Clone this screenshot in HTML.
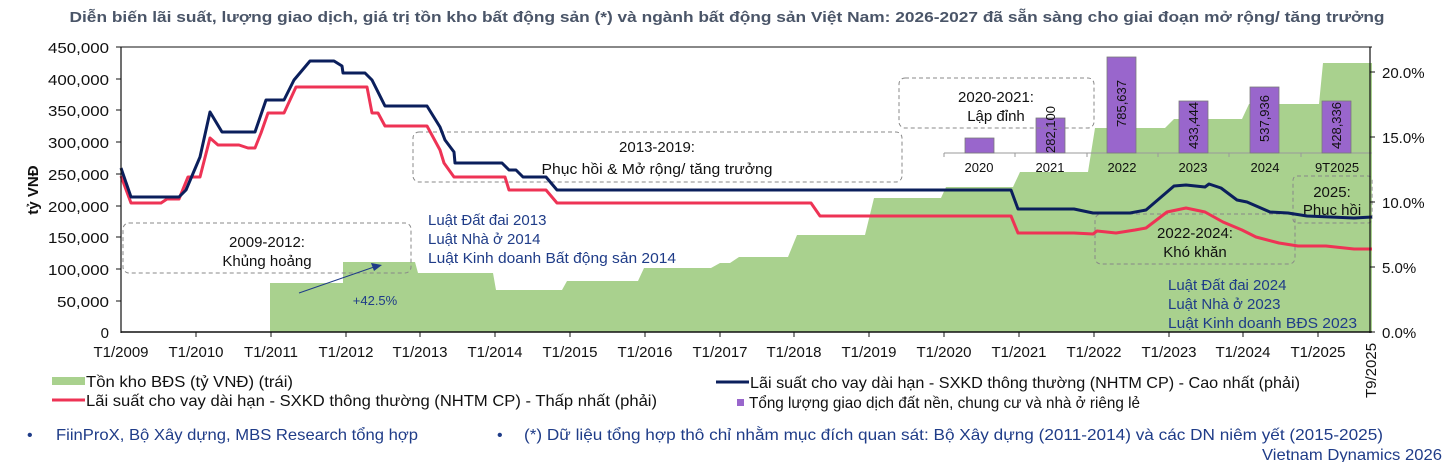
<!DOCTYPE html>
<html><head><meta charset="utf-8"><style>
html,body{margin:0;padding:0;background:#fff;}
svg{display:block;font-family:"Liberation Sans",Arial,sans-serif;}
</style></head><body>
<svg width="1447" height="462" viewBox="0 0 1447 462" xmlns="http://www.w3.org/2000/svg">
<text x="727" y="22" text-anchor="middle" font-size="15" font-weight="bold" fill="#4a5568" textLength="1315" lengthAdjust="spacingAndGlyphs">Diễn biến lãi suất, lượng giao dịch, giá trị tồn kho bất động sản (*) và ngành bất động sản Việt Nam: 2026-2027 đã sẵn sàng cho giai đoạn mở rộng/ tăng trưởng</text>

<!-- green area -->
<polygon fill="#a9d18e" points="270,332 270,283 343,283 343,262 415,262 418,273 493,273 496,290 562,290 567,281 638,281 644,268 711,268 720,263 730,263 739,257 788,257 797,235 865,235 874,198 941,198 946,187 1013,187 1020,172 1088,172 1095,128 1165,128 1174,119 1242,119 1249,104 1319,104 1323,63 1372,63 1372,332"/>

<!-- bar inset -->
<line x1="944" y1="153" x2="1372" y2="153" stroke="#999" stroke-width="1"/>
<g stroke="#999"><line x1="944" y1="153" x2="944" y2="157"/><line x1="1015" y1="153" x2="1015" y2="157"/><line x1="1087" y1="153" x2="1087" y2="157"/><line x1="1158" y1="153" x2="1158" y2="157"/><line x1="1229" y1="153" x2="1229" y2="157"/><line x1="1301" y1="153" x2="1301" y2="157"/></g>
<g fill="#9966cc" stroke="#7a7a7a" stroke-width="0.8">
<rect x="965" y="138" width="29" height="15"/>
<rect x="1036" y="118" width="29" height="35"/>
<rect x="1107" y="57" width="29" height="96"/>
<rect x="1179" y="101" width="29" height="52"/>
<rect x="1250" y="87" width="29" height="66"/>
<rect x="1322" y="101" width="29" height="52"/>
</g>
<g font-size="13" fill="#111" text-anchor="middle">
<text x="979" y="172">2020</text><text x="1050" y="172">2021</text><text x="1122" y="172">2022</text><text x="1193" y="172">2023</text><text x="1265" y="172">2024</text><text x="1337" y="172">9T2025</text>
</g>
<g font-size="13" fill="#111">
<text transform="translate(1055,153) rotate(-90)">282,100</text>
<text transform="translate(1126,127) rotate(-90)">785,637</text>
<text transform="translate(1198,149) rotate(-90)">433,444</text>
<text transform="translate(1269,142) rotate(-90)">537,936</text>
<text transform="translate(1341,149) rotate(-90)">428,336</text>
</g>

<!-- dashed boxes -->
<g fill="none" stroke="#888" stroke-width="1" stroke-dasharray="4,3">
<rect x="123" y="223" width="288" height="50" rx="6"/>
<rect x="413" y="132" width="489" height="50" rx="6"/>
<rect x="899" y="78" width="195" height="50" rx="6"/>
<rect x="1095" y="214" width="200" height="50" rx="6"/>
<rect x="1293" y="176" width="79" height="47" rx="4"/>
</g>
<g font-size="15" fill="#111" text-anchor="middle">
<text x="267" y="247">2009-2012:</text><text x="267" y="266">Khủng hoảng</text>
<text x="657" y="152">2013-2019:</text><text x="657" y="174" textLength="231" lengthAdjust="spacingAndGlyphs">Phục hồi &amp; Mở rộng/ tăng trưởng</text>
<text x="996" y="102">2020-2021:</text><text x="996" y="121">Lập đỉnh</text>
<text x="1195" y="238">2022-2024:</text><text x="1195" y="257">Khó khăn</text>
<text x="1332" y="197">2025:</text><text x="1332" y="215">Phục hồi</text>
</g>
<g font-size="15" fill="#1f3c88">
<text x="428" y="225">Luật Đất đai 2013</text><text x="428" y="244">Luật Nhà ở 2014</text><text x="428" y="263" textLength="248" lengthAdjust="spacingAndGlyphs">Luật Kinh doanh Bất động sản 2014</text>
<text x="1168" y="290">Luật Đất đai 2024</text><text x="1168" y="309">Luật Nhà ở 2023</text><text x="1168" y="328" textLength="189" lengthAdjust="spacingAndGlyphs">Luật Kinh doanh BĐS 2023</text>
</g>
<line x1="299" y1="293" x2="374" y2="267" stroke="#1f3c88" stroke-width="1"/>
<polygon points="382,265 371,263 374,271" fill="#1f3c88"/>
<text x="375" y="305" font-size="13" fill="#1f3c88" text-anchor="middle">+42.5%</text>

<!-- lines -->
<polyline fill="none" stroke="#ee3355" stroke-width="3" stroke-linejoin="round" points="121,176 131,203 161,203 167,199 179,199 188,177 200,177 210,138 218,145 239,145 248,148 255,148 261,133 268,113 284,113 296,87 367,87 372,113 378,113 385,126 427,126 440,150 444,163 454,177 505,177 509,190 546,190 557,203 811,203 820,216 1011,216 1018,233 1074,233 1093,234 1097,231 1116,233 1135,230 1146,228 1167,212 1186,208 1205,212 1223,222 1242,230 1256,237 1279,243 1298,246 1326,246 1354,249 1372,249"/>
<polyline fill="none" stroke="#0b1f5c" stroke-width="3" stroke-linejoin="round" points="121,168 131,197 179,197 186,190 200,157 210,112 222,132 255,132 266,100 284,100 294,80 310,61 334,61 342,66 343,73 365,73 372,80 385,106 427,106 440,127 445,140 454,152 455,163 502,163 509,170 516,170 523,177 546,177 557,190 1011,190 1018,209 1074,209 1093,213 1130,213 1146,210 1174,186 1186,185 1205,187 1209,184 1221,188 1237,200 1247,202 1270,212 1288,213 1307,216 1354,218 1372,217"/>

<!-- axes -->
<line x1="121" y1="47" x2="1372" y2="47" stroke="#111" stroke-width="1"/>
<line x1="121" y1="47" x2="121" y2="333" stroke="#111" stroke-width="1.2"/>
<line x1="1370" y1="47" x2="1370" y2="333" stroke="#111" stroke-width="1.2"/>
<line x1="121" y1="332" x2="1372" y2="332" stroke="#111" stroke-width="1.5"/>
<g font-size="15" fill="#111" text-anchor="end">
<text x="109" y="53" textLength="61" lengthAdjust="spacingAndGlyphs">450,000</text><text x="109" y="85" textLength="61" lengthAdjust="spacingAndGlyphs">400,000</text><text x="109" y="116" textLength="61" lengthAdjust="spacingAndGlyphs">350,000</text><text x="109" y="148" textLength="61" lengthAdjust="spacingAndGlyphs">300,000</text><text x="109" y="180" textLength="61" lengthAdjust="spacingAndGlyphs">250,000</text><text x="109" y="212" textLength="61" lengthAdjust="spacingAndGlyphs">200,000</text><text x="109" y="243" textLength="61" lengthAdjust="spacingAndGlyphs">150,000</text><text x="109" y="275" textLength="61" lengthAdjust="spacingAndGlyphs">100,000</text><text x="109" y="307" textLength="52" lengthAdjust="spacingAndGlyphs">50,000</text><text x="109" y="338">0</text>
</g>
<g stroke="#111"><line x1="116" y1="47" x2="121" y2="47"/><line x1="116" y1="79" x2="121" y2="79"/><line x1="116" y1="110" x2="121" y2="110"/><line x1="116" y1="142" x2="121" y2="142"/><line x1="116" y1="174" x2="121" y2="174"/><line x1="116" y1="206" x2="121" y2="206"/><line x1="116" y1="237" x2="121" y2="237"/><line x1="116" y1="269" x2="121" y2="269"/><line x1="116" y1="301" x2="121" y2="301"/>
<line x1="1370" y1="72" x2="1375" y2="72"/><line x1="1370" y1="137" x2="1375" y2="137"/><line x1="1370" y1="202" x2="1375" y2="202"/><line x1="1370" y1="267" x2="1375" y2="267"/><line x1="1370" y1="332" x2="1375" y2="332"/></g>
<g font-size="15" fill="#111">
<text x="1382" y="78">20.0%</text><text x="1382" y="143">15.0%</text><text x="1382" y="208">10.0%</text><text x="1382" y="273">5.0%</text><text x="1382" y="338">0.0%</text>
</g>
<text transform="translate(38,190) rotate(-90)" font-size="15" font-weight="bold" fill="#111" text-anchor="middle">tỷ VNĐ</text>
<g font-size="15" fill="#111" text-anchor="middle">
<text x="121" y="357">T1/2009</text><text x="196" y="357">T1/2010</text><text x="271" y="357">T1/2011</text><text x="346" y="357">T1/2012</text><text x="420" y="357">T1/2013</text><text x="495" y="357">T1/2014</text><text x="570" y="357">T1/2015</text><text x="645" y="357">T1/2016</text><text x="720" y="357">T1/2017</text><text x="794" y="357">T1/2018</text><text x="869" y="357">T1/2019</text><text x="944" y="357">T1/2020</text><text x="1019" y="357">T1/2021</text><text x="1094" y="357">T1/2022</text><text x="1169" y="357">T1/2023</text><text x="1243" y="357">T1/2024</text><text x="1318" y="357">T1/2025</text>
</g>
<g stroke="#111"><line x1="196" y1="332" x2="196" y2="337"/><line x1="271" y1="332" x2="271" y2="337"/><line x1="346" y1="332" x2="346" y2="337"/><line x1="420" y1="332" x2="420" y2="337"/><line x1="495" y1="332" x2="495" y2="337"/><line x1="570" y1="332" x2="570" y2="337"/><line x1="645" y1="332" x2="645" y2="337"/><line x1="720" y1="332" x2="720" y2="337"/><line x1="794" y1="332" x2="794" y2="337"/><line x1="869" y1="332" x2="869" y2="337"/><line x1="944" y1="332" x2="944" y2="337"/><line x1="1019" y1="332" x2="1019" y2="337"/><line x1="1094" y1="332" x2="1094" y2="337"/><line x1="1169" y1="332" x2="1169" y2="337"/><line x1="1243" y1="332" x2="1243" y2="337"/><line x1="1318" y1="332" x2="1318" y2="337"/></g>
<text transform="translate(1376,398) rotate(-90)" font-size="15" fill="#111">T9/2025</text>

<!-- legend -->
<rect x="52" y="377" width="33" height="8" fill="#a9d18e"/>
<text x="86" y="387" font-size="16" fill="#111" textLength="207" lengthAdjust="spacingAndGlyphs">Tồn kho BĐS (tỷ VNĐ) (trái)</text>
<line x1="52" y1="400" x2="85" y2="400" stroke="#ee3355" stroke-width="3"/>
<text x="86" y="406" font-size="16" fill="#111" textLength="571" lengthAdjust="spacingAndGlyphs">Lãi suất cho vay dài hạn - SXKD thông thường (NHTM CP) - Thấp nhất (phải)</text>
<line x1="716" y1="382" x2="749" y2="382" stroke="#0b1f5c" stroke-width="3"/>
<text x="750" y="388" font-size="16" fill="#111" textLength="550" lengthAdjust="spacingAndGlyphs">Lãi suất cho vay dài hạn - SXKD thông thường (NHTM CP) - Cao nhất (phải)</text>
<rect x="737" y="399" width="7" height="7" fill="#9966cc"/>
<text x="749" y="408" font-size="16" fill="#111" textLength="391" lengthAdjust="spacingAndGlyphs">Tổng lượng giao dịch đất nền, chung cư và nhà ở riêng lẻ</text>

<g font-size="16" fill="#1f3c88">
<text x="27" y="440">•</text><text x="56" y="440" textLength="362" lengthAdjust="spacingAndGlyphs">FiinProX, Bộ Xây dựng, MBS Research tổng hợp</text>
<text x="497" y="440">•</text><text x="524" y="440" textLength="859" lengthAdjust="spacingAndGlyphs">(*) Dữ liệu tổng hợp thô chỉ nhằm mục đích quan sát: Bộ Xây dựng (2011-2014) và các DN niêm yết (2015-2025)</text>
<text x="1442" y="460" text-anchor="end" textLength="180" lengthAdjust="spacingAndGlyphs">Vietnam Dynamics 2026</text>
</g>
</svg>
</body></html>
